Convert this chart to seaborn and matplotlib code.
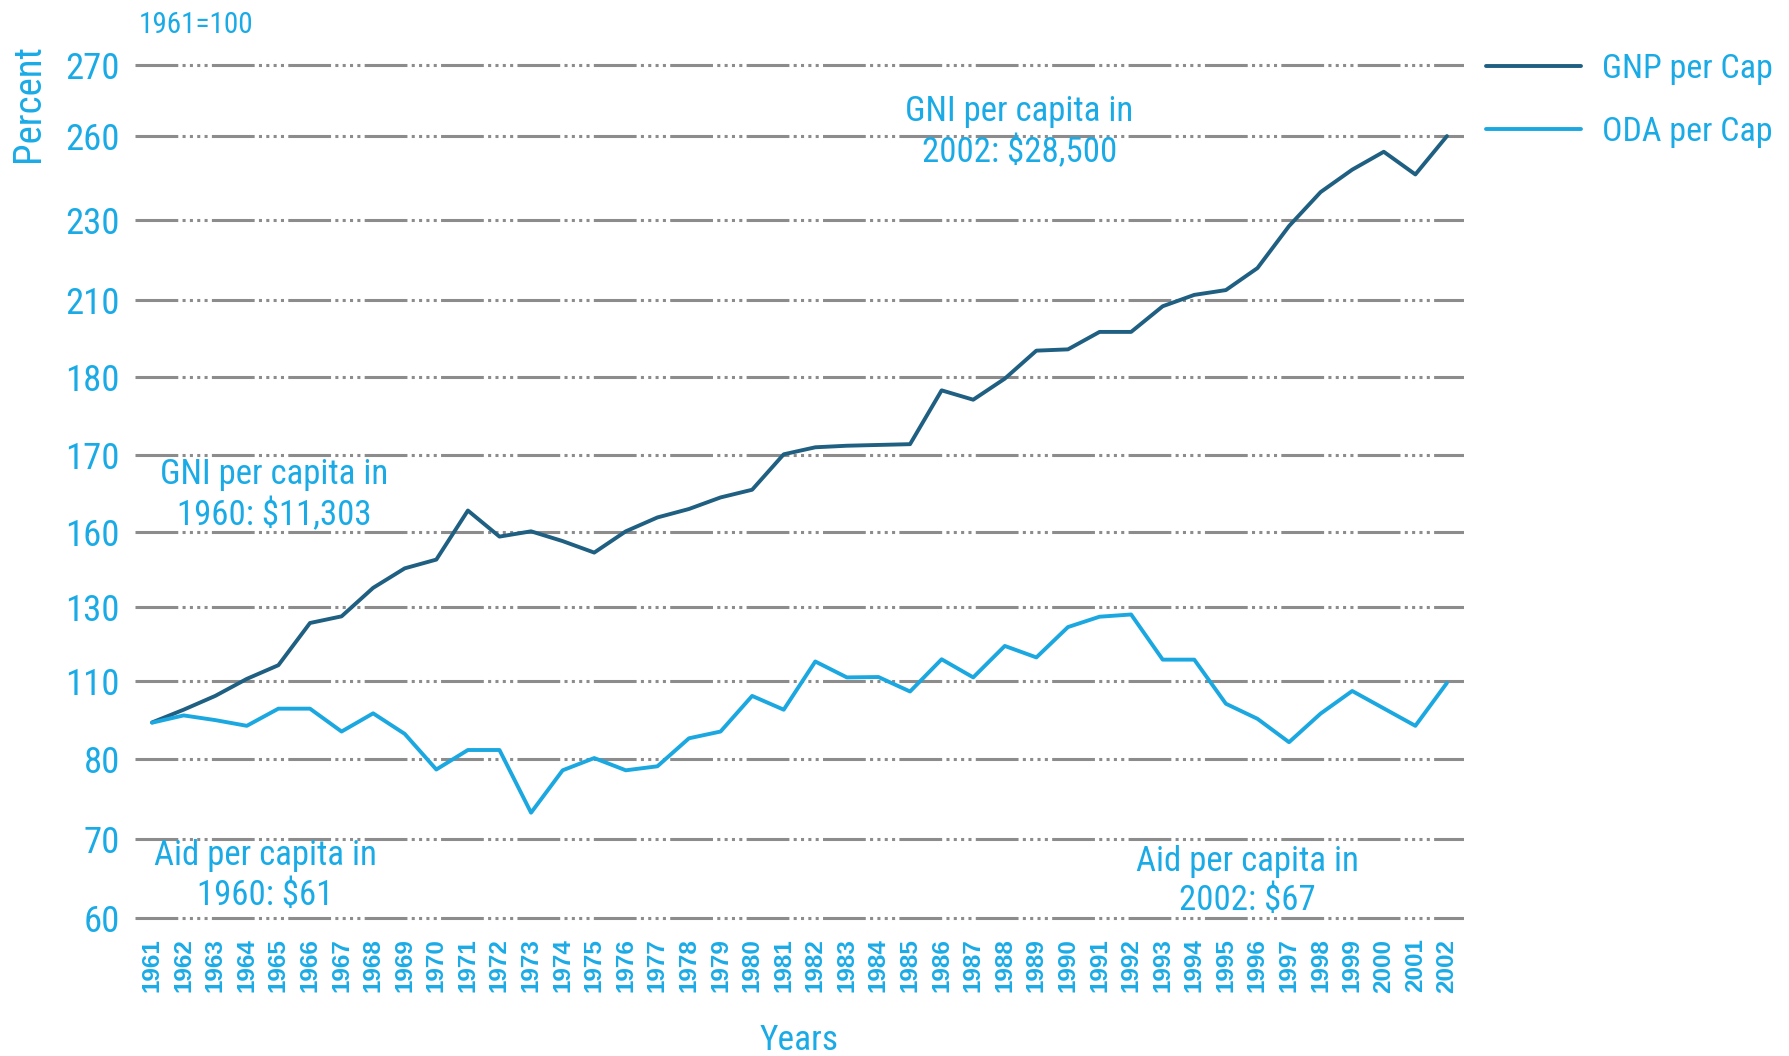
import numpy as np
import pandas as pd
import matplotlib
matplotlib.use("Agg")
import matplotlib.pyplot as plt
import seaborn as sns
from matplotlib import font_manager as fm

# ---------------- data ----------------
years = list(range(1961, 2003))
gnp_per_cap = [94.1, 99.0, 104.3, 110.6, 114.3, 125.7, 127.5, 137.7, 145.5, 149.0,
               162.8, 158.2, 160.1, 156.4, 151.8, 160.1, 161.9, 163.0, 164.5, 165.5,
               170.1, 171.0, 171.2, 171.3, 171.4, 178.3, 177.1, 179.8, 190.3, 190.8,
               197.6, 197.6, 207.6, 211.3, 212.5, 218.0, 228.5, 240.0, 248.0, 254.4,
               246.3, 260.0]
oda_per_cap = [94.0, 96.8, 95.0, 92.8, 99.4, 99.4, 90.6, 97.6, 89.7, 78.7,
               83.5, 83.5, 73.3, 78.6, 80.4, 78.6, 79.1, 88.0, 90.6, 104.3,
               99.0, 115.3, 111.0, 111.1, 106.0, 115.9, 111.0, 119.5, 116.4, 124.6,
               127.4, 128.0, 115.8, 115.8, 101.3, 95.5, 86.5, 97.5, 106.2, 99.5,
               92.8, 109.3]
series_names = ["GNP per Cap", "ODA per Cap"]
y_tick_values = [60, 70, 80, 110, 130, 160, 170, 180, 210, 230, 260, 270]
annotations = ["GNI per capita in\n1960: $11,303", "Aid per capita in\n1960: $61",
               "GNI per capita in\n2002: $28,500", "Aid per capita in\n2002: $67"]

# ---------------- style ----------------
BLUE_TXT = "#1aabe6"
GNP_COL = "#1f5f82"
ODA_COL = "#1ba8e0"
GRID_COL = "#8c8c8c"

sns.set_theme(style="white")
names = sorted({f.name for f in fm.fontManager.ttflist})
narrow = None
for cand in ["Liberation Sans Narrow", "Roboto Condensed", "Open Sans Condensed",
             "Noto Sans Condensed", "DejaVu Sans Condensed", "Noto Sans SemiCondensed"]:
    if cand in names:
        narrow = cand
        break
if narrow is None:
    for n in names:
        if "Condensed" in n or "Narrow" in n:
            narrow = n
            break
if narrow is None:
    narrow = "Liberation Sans"
    k = 0.80
else:
    k = 1.0
plt.rcParams["font.family"] = [narrow, "DejaVu Sans"]

# the original axis places its (uneven) tick values at near-even steps
tick_spacing = [0, 79, 159, 237, 311, 386, 463, 541, 618, 698, 782, 853]
ext_vals = np.array([0] + y_tick_values + [400], dtype=float)
ext_pos = np.array([-474] + tick_spacing + [853 + 130 * 7.1], dtype=float)

def fwd(v):
    return np.interp(v, ext_vals, ext_pos)

def inv(p):
    return np.interp(p, ext_pos, ext_vals)

df = pd.DataFrame({
    "Year": years * 2,
    "Value": gnp_per_cap + oda_per_cap,
    "Series": [series_names[0]] * len(years) + [series_names[1]] * len(years),
})

fig = plt.figure(figsize=(17.89, 10.56), dpi=100)
ax = fig.add_axes([0.0755, 0.1231, 0.7428, 0.822])

sns.lineplot(data=df, x="Year", y="Value", hue="Series", hue_order=series_names,
             palette=[GNP_COL, ODA_COL], linewidth=2.8, ax=ax, legend=True)

ax.set_yscale("function", functions=(fwd, inv))
ax.set_ylim(59, 271)
ax.set_xlim(1960.462, 2002.538)

ax.set_yticks(y_tick_values)
ax.set_yticklabels([str(v) for v in y_tick_values])
ax.yaxis.set_minor_locator(matplotlib.ticker.NullLocator())
ax.set_xticks(years)
ax.set_xticklabels([str(y) for y in years], rotation=90)
ax.tick_params(axis="y", length=0, pad=11, labelsize=26.5 * k, labelcolor=BLUE_TXT)
ax.tick_params(axis="x", length=0, pad=9, labelcolor=BLUE_TXT)
for lab in ax.get_xticklabels():
    lab.set_fontfamily(["Liberation Sans", "DejaVu Sans"])
    lab.set_fontweight("bold")
    lab.set_fontsize(17.5)

ax.grid(axis="y", color=GRID_COL, linewidth=2.2,
        linestyle=(0, (14, 1.4, 1, 1.4, 1, 1.4, 1, 1.4, 1, 1.4)))
ax.grid(axis="x", visible=False)
ax.set_axisbelow(True)
for s in ax.spines.values():
    s.set_visible(False)
ax.set_xlabel("")
ax.set_ylabel("")

# legend outside, to the right
handles, labels = ax.get_legend_handles_labels()
leg = ax.legend(handles, labels, loc="center left",
                bbox_to_anchor=(1486 / 1789, 1 - 100.5 / 1056),
                bbox_transform=fig.transFigure, frameon=False,
                fontsize=24.5 * k, handlelength=2.8 / k, handletextpad=0.62 / k,
                labelspacing=0.9 / k + (0.4 if k < 1 else 0), borderpad=0, borderaxespad=0)
for t in leg.get_texts():
    t.set_color(BLUE_TXT)
for h in leg.get_lines():
    h.set_linewidth(2.8)

# annotations
ann_pos = [(1964.86, 164.8), (1964.58, 65.4), (1988.46, 260.6), (1995.68, 64.7)]
for txt, (xx, yy) in zip(annotations, ann_pos):
    ax.text(xx, yy, txt, ha="center", va="center", fontsize=25 * k,
            color=BLUE_TXT, linespacing=1.25)

fig.text(139 / 1789, 1 - 25 / 1056, "1961=100", ha="left", va="center",
         fontsize=21 * k, color=BLUE_TXT)
fig.text(29 / 1789, 1 - 103 / 1056, "Percent", ha="center", va="center",
         rotation=90, fontsize=28 * k, color=BLUE_TXT)
fig.text(799 / 1789, 1 - 1040 / 1056, "Years", ha="center", va="center",
         fontsize=25.5 * k, color=BLUE_TXT)

fig.savefig("out.png", dpi=100, facecolor="white")
